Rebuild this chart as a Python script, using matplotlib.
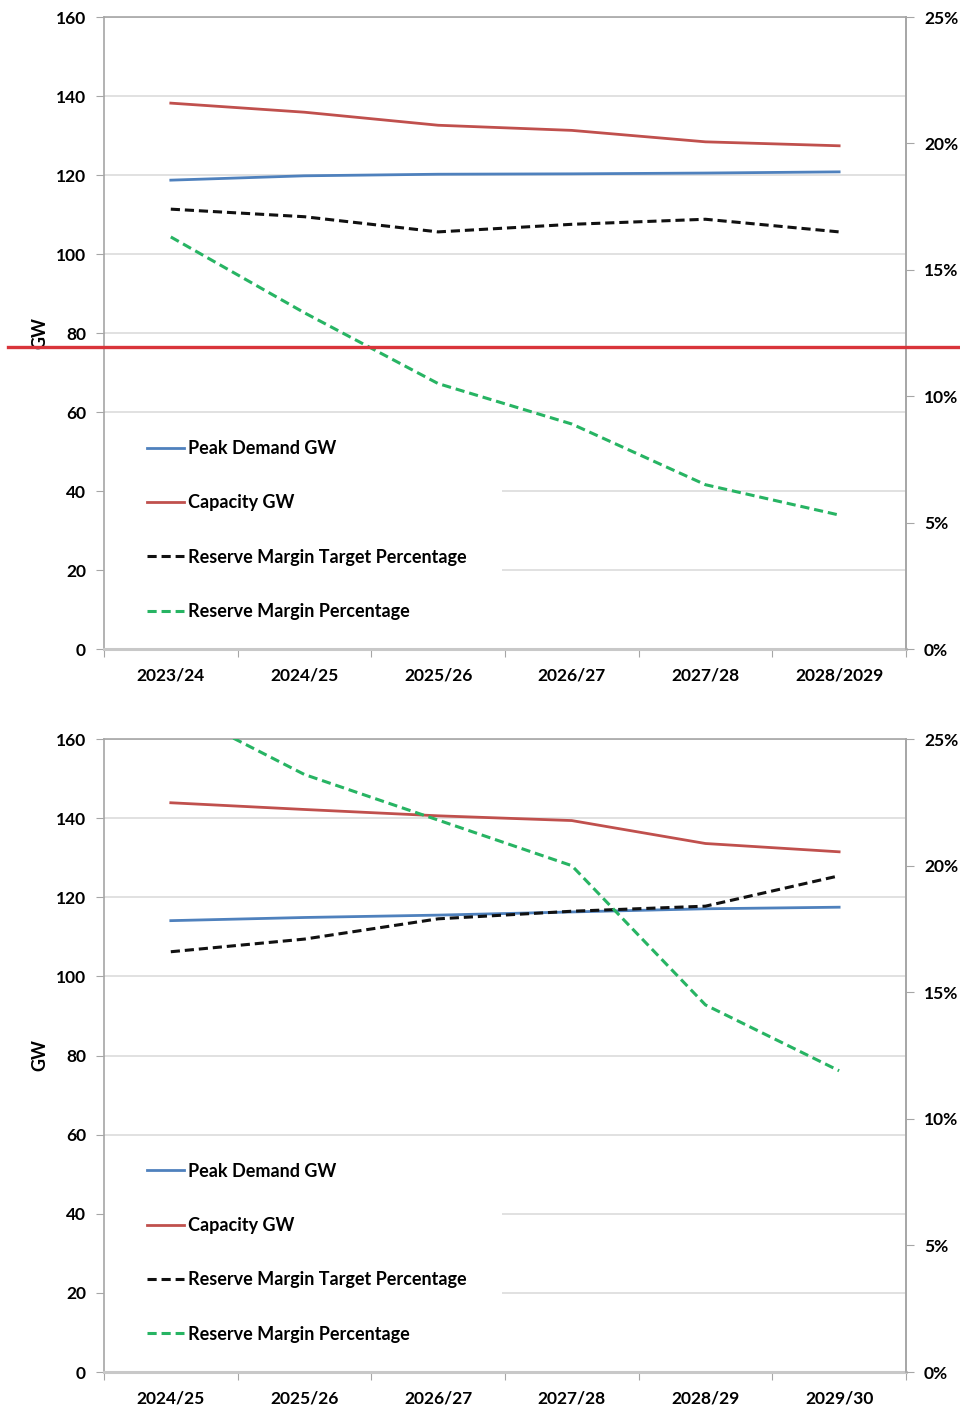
import numpy as np
import matplotlib
matplotlib.use("Agg")
import matplotlib.pyplot as plt
from matplotlib.lines import Line2D
from matplotlib.patches import Rectangle
from matplotlib.ticker import FuncFormatter, FixedLocator

plt.rcParams['font.family'] = ['Lato', 'DejaVu Sans']
plt.rcParams['font.weight'] = 'bold'

# top chart
years_top = ['2023/24', '2024/25', '2025/26', '2026/27', '2027/28', '2028/2029']
peak_top = [118.7, 119.8, 120.2, 120.3, 120.5, 120.8]
cap_top = [138.2, 135.9, 132.6, 131.3, 128.4, 127.4]
target_top = [17.4, 17.1, 16.5, 16.8, 17.0, 16.5]
margin_top = [16.3, 13.3, 10.5, 8.9, 6.5, 5.3]

# bottom chart
years_bot = ['2024/25', '2025/26', '2026/27', '2027/28', '2028/29', '2029/30']
peak_bot = [114.1, 114.9, 115.5, 116.3, 117.1, 117.5]
cap_bot = [143.9, 142.2, 140.6, 139.4, 133.6, 131.5]
target_bot = [16.6, 17.1, 17.9, 18.2, 18.4, 19.6]
margin_bot = [26.3, 23.6, 21.8, 20.0, 14.5, 11.9]

labels = ['Peak Demand GW', 'Capacity GW',
          'Reserve Margin Target Percentage', 'Reserve Margin Percentage']

c_blue = '#4f81bd'
c_red = '#c0504d'
c_black = '#111111'
c_green = '#27b463'
c_axis = '#a6a6a6'
c_grid = '#dcdcdc'
fs = 12.5
fs_leg = 13


def chart(ax, years, peak, cap, target, margin):
    x = np.arange(len(years))
    ax.set_xlim(-0.5, len(years) - 0.5)
    ax.set_ylim(0, 160)
    ax.set_yticks(np.arange(0, 161, 20))
    ax.grid(axis='y', color=c_grid, lw=1.2, zorder=0)
    ax.set_axisbelow(True)
    for s in ax.spines.values():
        s.set_color(c_axis)
        s.set_linewidth(1.2)
    ax.spines['bottom'].set_linewidth(2.2)
    ax.spines['bottom'].set_color('#c8c8c8')
    ax.tick_params(axis='y', direction='out', length=6, color=c_axis,
                   labelsize=fs, pad=7)
    # category boundaries as ticks, labels in the middle
    ax.xaxis.set_major_locator(FixedLocator(np.arange(-0.5, len(years), 1.0)))
    ax.xaxis.set_minor_locator(FixedLocator(x))
    ax.set_xticklabels([])
    ax.set_xticklabels(years, minor=True)
    ax.tick_params(axis='x', which='major', direction='out', length=6,
                   color=c_axis)
    ax.tick_params(axis='x', which='minor', length=0, labelsize=fs, pad=13.5)
    ax.set_ylabel('GW', fontsize=13, fontweight='bold', labelpad=5)

    # white box behind the legend hides the lower gridlines
    ax.add_patch(Rectangle((0.0, 0.006), 0.496, 0.354, transform=ax.transAxes,
                           facecolor='white', edgecolor='none', zorder=1))

    l1, = ax.plot(x, peak, color=c_blue, lw=2.0, zorder=3)
    l2, = ax.plot(x, cap, color=c_red, lw=2.0, zorder=3)

    ax2 = ax.twinx()
    ax2.set_ylim(0, 25)
    ax2.set_yticks(np.arange(0, 26, 5))
    ax2.yaxis.set_major_formatter(FuncFormatter(lambda v, p: '%d%%' % v))
    ax2.tick_params(axis='y', direction='out', length=6, color=c_axis,
                    labelsize=fs, pad=7)
    for s in ax2.spines.values():
        s.set_visible(False)
    ax2.spines['right'].set_visible(True)
    ax2.spines['right'].set_color(c_axis)
    ax2.spines['right'].set_linewidth(1.2)

    l3, = ax2.plot(x, target, color=c_black, lw=2.2, dashes=(3, 1.6))
    l4, = ax2.plot(x, margin, color=c_green, lw=2.2, dashes=(3, 1.6))

    leg = ax2.legend([l1, l2, l3, l4], labels, loc='upper left',
                     bbox_to_anchor=(0.0536, 0.331), fontsize=fs_leg,
                     labelspacing=2.07, handlelength=2.05, handletextpad=0.22,
                     borderpad=0, borderaxespad=0, frameon=False)
    for t in leg.get_texts():
        t.set_fontweight('bold')
    return ax2


fig = plt.figure(figsize=(9.6, 14.18), dpi=100)
ax_top = fig.add_axes([0.1083, 0.5423, 0.8354, 0.4457])
ax_bot = fig.add_axes([0.1083, 0.0324, 0.8354, 0.4464])

chart(ax_top, years_top, peak_top, cap_top, target_top, margin_top)
chart(ax_bot, years_bot, peak_bot, cap_bot, target_bot, margin_bot)

# red marker line across the top chart
fig.add_artist(Line2D([0.008, 1.0], [0.7553, 0.7553], color='#d9343a',
                      lw=2.4, transform=fig.transFigure, zorder=10))

fig.savefig('out.png', dpi=100)
